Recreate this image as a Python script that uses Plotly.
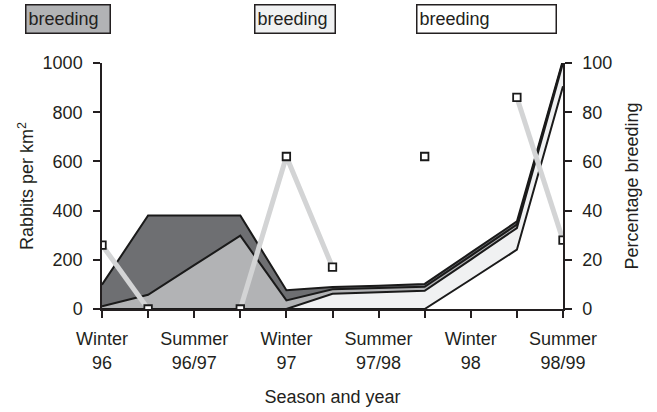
import plotly.graph_objects as go

# ---- data ----
x_pos = list(range(11))
label_pos = [0, 2, 4, 6, 8, 10]
tick_labels = ["Winter<br>96", "Summer<br>96/97", "Winter<br>97",
               "Summer<br>97/98", "Winter<br>98", "Summer<br>98/99"]
series_a = [99, 380, 380, 380, 76, 89, 95, 102, 229, 356, 1012]
series_b = [11, 58, 178, 298, 35, 80, 85, 90, 216, 343, 1006]
series_c = [0, 0, 0, 0, 0, 62, 68, 74, 201, 329, 1000]
series_d = [0, 0, 0, 0, 0, 0, 0, 0, 120, 241, 905]
pct_breeding = [26, 0, None, 0, 62, 17, None, 62, None, 86, 28]
legend_labels = ["breeding", "breeding", "breeding"]

FONT = "Liberation Sans, Arial, sans-serif"
TXT = "#231f20"
FS = 18

fig = go.Figure()
fills = ["#6e6f72", "#b2b3b5", "#f0f1f2", "#ffffff"]
for vals, fc in zip([series_a, series_b, series_c, series_d], fills):
    fig.add_trace(go.Scatter(x=x_pos, y=vals, mode="lines", fill="tozeroy",
                             fillcolor=fc, line=dict(color="#1a1a1a", width=2),
                             hoverinfo="skip", showlegend=False))

fig.add_trace(go.Scatter(x=x_pos, y=pct_breeding, yaxis="y2", mode="lines+markers",
                         connectgaps=False,
                         line=dict(color="#d3d4d5", width=5),
                         marker=dict(symbol="square", size=7.5, color="white",
                                     line=dict(color="#1a1a1a", width=1.8)),
                         showlegend=False))

W, H = 657, 412
L, R, T, B = 102, 94, 63, 103
pw, ph = W - L - R, H - T - B

box_lefts = [25, 254, 416]
box_widths = [79, 75, 134]
box_fills = ["#b2b3b5", "#f0f1f2", "#ffffff"]
for lab, lft, wd, fc in zip(legend_labels, box_lefts, box_widths, box_fills):
    fig.add_annotation(text=lab, xref="paper", yref="paper",
                       x=(lft - L) / pw, y=1 + (T - 19) / ph,
                       xanchor="left", yanchor="middle", align="left",
                       showarrow=False, width=wd, height=23,
                       bgcolor=fc, bordercolor="#231f20", borderwidth=1.5, borderpad=2,
                       font=dict(family=FONT, size=FS, color=TXT))

axis_common = dict(showgrid=False, zeroline=False, showline=True, automargin=False,
                   linecolor="#231f20", linewidth=1.5, ticks="outside",
                   tickcolor="#231f20", tickwidth=1.5, ticklen=7,
                   tickfont=dict(family=FONT, size=FS, color=TXT))

fig.update_layout(
    width=W, height=H,
    margin=dict(l=L, r=R, t=T, b=B),
    plot_bgcolor="white", paper_bgcolor="white",
    xaxis=dict(range=[0, 10], tickvals=label_pos, ticktext=tick_labels,
               ticklabelstandoff=6,
               minor=dict(tickvals=x_pos, ticks="outside", ticklen=7,
                          tickwidth=1.5, tickcolor="#231f20", showgrid=False),
               title=dict(text="Season and year", font=dict(family=FONT, size=FS, color=TXT),
                          standoff=19),
               **axis_common),
    yaxis=dict(range=[0, 1000], dtick=200, ticklabelstandoff=7,
               title=dict(text="Rabbits per km<sup>2</sup>",
                          font=dict(family=FONT, size=FS, color=TXT), standoff=4),
               **axis_common),
    yaxis2=dict(range=[0, 100], dtick=20, overlaying="y", side="right",
                ticklabelstandoff=7,
                title=dict(text="Percentage breeding",
                           font=dict(family=FONT, size=FS, color=TXT), standoff=14),
                **axis_common),
    yaxis3=dict(range=[0, 100], dtick=20, overlaying="y", side="right",
                automargin=False,
                showgrid=False, zeroline=False, showline=False, showticklabels=False,
                ticks="inside", tickcolor="#231f20", tickwidth=1.5, ticklen=7),
)
fig.write_html("out.html", config={"displayModeBar": False},
               post_script="document.body.style.margin='0';")
